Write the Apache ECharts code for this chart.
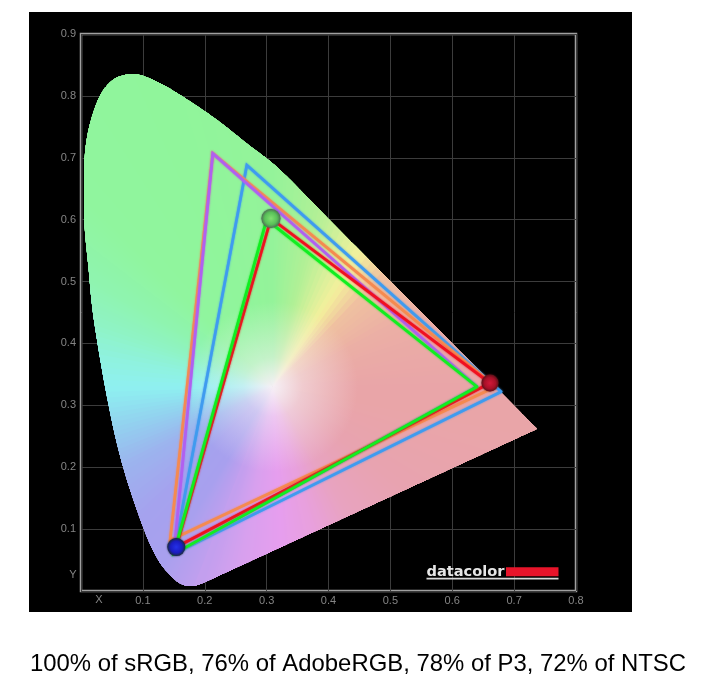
<!DOCTYPE html>
<html><head><meta charset="utf-8">
<style>html,body{margin:0;padding:0;background:#fff}#c{width:705px;height:687px}</style>
<script src="https://cdn.jsdelivr.net/npm/echarts@6/dist/echarts.min.js"></script>
</head><body><div id="c"></div>
<script>
// CIE 1931 locus outline
const locusCurve = [[.195,.012],[.179,.008],[.163,.011],[.147,.023],[.125,.050],[.101,.102],[.068,.201],[.044,.304],[.021,.438],[.012,.524],[.006,.588],[.005,.643],[.006,.701],[.012,.744],[.023,.782],[.036,.809],[.055,.828],[.079,.835],[.098,.833],[.124,.822],[.156,.804],[.213,.766],[.268,.723],[.322,.680],[.402,.599]];
const locusTip = [.737,.262];
// Gamut triangles
const p3Gamut = [[.679,.322],[.268,.688],[.15,.06]];
const ntscGamut = [[.67,.33],[.213,.707],[.144,.082]];
const adobeGamut = [[.64,.33],[.213,.707],[.15,.06]];
const measuredGamut = [[.661,.336],[.307,.602],[.154,.071]];
const srgbGamut = [[.64,.33],[.30,.60],[.15,.06]];
// Primaries markers
const redPrimary = [.661,.336], greenPrimary = [.307,.602], bluePrimary = [.154,.071];
const whitePoint = [.31,.33];
const caption = '100% of sRGB, 76% of AdobeRGB, 78% of P3, 72% of NTSC';
// hue around the white point: angle in degrees, colour
const hueAngles = [-180,-175,-165,-152,-135,-122,-113,-100,-87,-75,-60,-38,-9,0,26,45,57,66,76,90,110,135,150,160,170,180];
const hueColors = ['#8FF0F0','#8FE6F0','#93D0EF','#9CB4EE','#A5A2EE','#A8A0EE','#BC9FEE','#D8A0EE','#E69EEE','#E8A0DE','#E8A3C0','#E8A3B0','#E9A5A8','#E9A5A8','#EBAEA5','#EFC0A0','#F3F09C','#D5F09A','#B0F096','#94F39A','#90F59B','#90F59E','#8FF4B0','#8FF3C4','#8FF2DE','#8FF0F0'];

function closed(t){return t.concat([t[0]]);}
function catmull(pts){
  const out=[];
  for(let i=0;i<pts.length-1;i++){
    const p0=pts[Math.max(i-1,0)],p1=pts[i],p2=pts[i+1],p3=pts[Math.min(i+2,pts.length-1)];
    for(let k=0;k<14;k++){
      const t=k/14,t2=t*t,t3=t2*t;
      out.push([0,1].map(j=>.5*(2*p1[j]+(p2[j]-p0[j])*t+(2*p0[j]-5*p1[j]+4*p2[j]-p3[j])*t2+(3*p1[j]-p0[j]-3*p2[j]+p3[j])*t3)));
    }
  }
  return out;
}
function seg(a,b,n){const o=[];for(let i=0;i<n;i++){const t=i/n;o.push([a[0]+(b[0]-a[0])*t,a[1]+(b[1]-a[1])*t]);}return o;}
function rgb(h){const n=parseInt(h.slice(1),16);return [n>>16,(n>>8)&255,n&255];}
function mix(a,b,t){return a.map((v,i)=>v+(b[i]-v)*t);}
function css(c){return 'rgb('+c.map(Math.round).join(',')+')';}
function hueAt(deg){
  for(let i=0;i<hueAngles.length-1;i++){
    if(deg>=hueAngles[i]&&deg<=hueAngles[i+1]){
      return mix(rgb(hueColors[i]),rgb(hueColors[i+1]),(deg-hueAngles[i])/(hueAngles[i+1]-hueAngles[i]));
    }
  }
  return rgb(hueColors[0]);
}
function renderLocus(params,api){
  const curve=catmull(locusCurve), end=locusCurve[locusCurve.length-1];
  const pts=curve.concat(seg(end,locusTip,40),seg(locusTip,locusCurve[0],120)).map(p=>api.coord(p));
  const w=api.coord(whitePoint);
  const R=85, core=rgb('#F6F0F6');
  const children=[];
  const n=pts.length, overlap=12;
  for(let i=0;i<n;i++){
    const fan=[w];
    for(let k=0;k<=overlap;k++) fan.push(pts[(i+k)%n]);
    const a=pts[i],b=pts[(i+1)%n];
    const mx=(a[0]+b[0])/2-w[0],my=(a[1]+b[1])/2-w[1];
    const deg=Math.atan2(-my,mx)*180/Math.PI;
    const hue=hueAt(deg);
    const fill=new echarts.graphic.RadialGradient(w[0],w[1],R,[
      {offset:0,color:css(core)},
      {offset:.35,color:css(mix(core,hue,.5))},
      {offset:1,color:css(hue)}],true);
    children.push({type:'polygon',shape:{points:fan},style:{fill}});
  }
  return {type:'group',children};
}
function tri(name,data,color,z){return {name,type:'line',data:closed(data),showSymbol:false,symbol:'none',z,silent:true,
  lineStyle:{color,width:2.7,join:'miter',cap:'round',shadowBlur:2,shadowColor:color}};}
function ball(name,pos,light,mid,dark,size){return {name,type:'scatter',data:[pos],symbolSize:size,z:20,silent:true,
  itemStyle:{opacity:1,color:new echarts.graphic.RadialGradient(.5,.5,.5,[{offset:0,color:light},{offset:.65,color:mid},{offset:1,color:dark}]),shadowBlur:2,shadowColor:dark}};}
const chart=echarts.init(document.getElementById('c'),null,{renderer:'canvas'});
const labelStyle={color:'#858585',fontSize:11,fontFamily:'Liberation Sans',formatter:v=>v<=0?'':v.toFixed(1),showMaxLabel:true};
const axisCommon={min:0,interval:.1,axisLine:{show:false},axisTick:{show:false},
  splitLine:{show:true,lineStyle:{color:'#3c3c3c',width:1}}};
chart.setOption({
  animation:false,backgroundColor:'#fff',
  title:{text:caption,left:30,top:652,padding:0,textStyle:{fontFamily:'Liberation Sans',fontSize:23.9,fontWeight:'normal',color:'#000'}},
  grid:{show:true,left:81,right:129,top:34,bottom:96,borderColor:'#a0a0a0',borderWidth:2.5,backgroundColor:'transparent'},
  xAxis:Object.assign({type:'value',max:.8},axisCommon,{axisLabel:Object.assign({},labelStyle,{margin:4})}),
  yAxis:Object.assign({type:'value',max:.9},axisCommon,{axisLabel:Object.assign({},labelStyle,{margin:5})}),
  graphic:{elements:[
    {type:'rect',z:-100,shape:{x:29,y:12,width:603,height:600},style:{fill:'#000'}},
    {type:'text',z:100,x:99,y:600,style:{text:'X',fill:'#858585',font:'11px "Liberation Sans"',align:'center',verticalAlign:'middle'}},
    {type:'text',z:100,x:73,y:575,style:{text:'Y',fill:'#858585',font:'11px "Liberation Sans"',align:'center',verticalAlign:'middle'}},
    {type:'text',z:100,x:426.5,y:565,style:{text:'datacolor',fill:'#e6e6e6',font:'bold 14.6px "DejaVu Sans"',verticalAlign:'top'}},
    {type:'rect',z:100,shape:{x:506,y:567.3,width:52.5,height:9},style:{fill:'#E8142A'}},
    {type:'rect',z:100,shape:{x:426.5,y:577.7,width:132,height:1.7},style:{fill:'#d8d8d8'}}
  ]},
  series:[
    {type:'custom',data:[[0,0]],renderItem:renderLocus,z:1,silent:true,clip:false},
    tri('P3',p3Gamut,'#3F9BEF',5),
    tri('NTSC',ntscGamut,'#F58A50',6),
    tri('AdobeRGB',adobeGamut,'#B060F0',7),
    tri('Measured',measuredGamut,'#F01020',8),
    tri('sRGB',srgbGamut,'#10EE20',9),
    ball('Green primary',greenPrimary,'#80E070','#58C058','#4F7055',19),
    ball('Red primary',redPrimary,'#D01838','#A81028','#601018',17),
    ball('Blue primary',bluePrimary,'#2430E8','#1A1CC0','#1A2A40',18)
  ]
});
</script></body></html>
